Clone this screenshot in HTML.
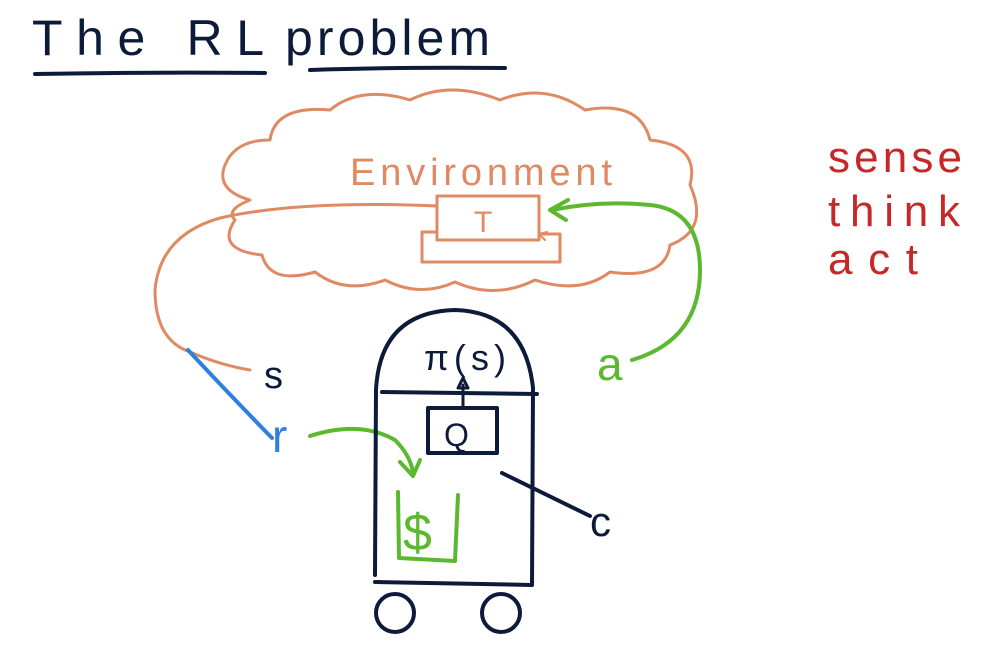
<!DOCTYPE html>
<html><head><style>
html,body{margin:0;padding:0;background:#fff;}
svg{display:block}
text{font-family:"Liberation Sans",sans-serif;}
</style></head><body>
<svg width="1004" height="652" viewBox="0 0 1004 652" xmlns="http://www.w3.org/2000/svg">
<g fill="none" stroke-linecap="round" stroke-linejoin="round">
<path d="M35 74 Q150 72 265 73" stroke="#0d1b3a" stroke-width="4"/>
<path d="M310 70 Q400 67 505 68" stroke="#0d1b3a" stroke-width="4"/>
<path d="M250 200 Q215 190 225 165 Q235 140 270 140 Q275 105 330 110 Q360 85 410 100 Q450 80 500 100 Q545 82 585 110 Q640 100 650 140 Q700 145 690 185 Q710 230 670 245 Q665 280 610 272 Q580 295 535 280 Q495 300 455 282 Q420 298 385 280 Q345 295 315 272 Q270 285 262 255 Q215 250 235 220 Q225 210 250 200" stroke="#e08a63" stroke-width="3"/>
<rect x="437" y="196" width="102" height="44" stroke="#e08a63" stroke-width="3"/>
<path d="M437 232 L422 232 L422 262 L560 262 L560 234 L539 234" stroke="#e08a63" stroke-width="3"/>
<path d="M545 240 L539 234 L547 232" stroke="#e08a63" stroke-width="2"/>
<path d="M437 206 Q300 200 220 218 Q160 235 155 290 Q155 340 190 352 Q220 365 250 370" stroke="#e08a63" stroke-width="3"/>
<path d="M188 350 Q230 395 272 438" stroke="#2f7fe0" stroke-width="4"/>
<path d="M632 360 Q700 340 700 270 Q700 210 650 205 Q600 200 552 210" stroke="#5cb82e" stroke-width="4"/>
<path d="M568 200 L550 210 L566 220" stroke="#5cb82e" stroke-width="4"/>
<path d="M310 436 Q360 420 395 440 Q410 455 413 472" stroke="#5cb82e" stroke-width="4"/>
<path d="M400 462 L413 476 L420 460" stroke="#5cb82e" stroke-width="4"/>
<path d="M375 575 L376 390 Q380 312 455 310 Q525 312 533 388 L532 585 L375 582" stroke="#0d1b3a" stroke-width="4"/>
<path d="M382 392 L537 394" stroke="#0d1b3a" stroke-width="4"/>
<rect x="428" y="408" width="69" height="45" stroke="#0d1b3a" stroke-width="4"/>
<path d="M463 408 L463 385 M458 388 L463 378 L468 388 Z" stroke="#0d1b3a" stroke-width="3"/>
<path d="M502 473 L590 516" stroke="#0d1b3a" stroke-width="4"/>
<circle cx="395" cy="613" r="19" stroke="#0d1b3a" stroke-width="4"/>
<circle cx="501" cy="613" r="19" stroke="#0d1b3a" stroke-width="4"/>
<path d="M398 492 L399 558 L455 561 L458 495" stroke="#5cb82e" stroke-width="4"/>
</g>
<g font-family="Liberation Sans, sans-serif">
<text x="32" y="55" font-size="50" fill="#0d1b3a" textLength="232" lengthAdjust="spacing">The RL</text>
<text x="285" y="55" font-size="50" fill="#0d1b3a" textLength="205" lengthAdjust="spacing">problem</text>
<text x="350" y="185" font-size="38" fill="#e08a63" textLength="262" lengthAdjust="spacing">Environment</text>
<text x="474" y="232" font-size="30" fill="#e08a63">T</text>
<text x="264" y="388" font-size="38" fill="#0d1b3a">s</text>
<text x="272" y="452" font-size="46" fill="#2f7fe0">r</text>
<text x="597" y="380" font-size="46" fill="#5cb82e">a</text>
<text x="424" y="370" font-size="36" fill="#0d1b3a" textLength="82" lengthAdjust="spacing">π(s)</text>
<text x="444" y="446" font-size="32" fill="#0d1b3a">Q</text>
<text x="403" y="550" font-size="52" fill="#5cb82e">$</text>
<text x="590" y="536" font-size="42" fill="#0d1b3a">c</text>
<text x="828" y="172" font-size="44" fill="#c62828" textLength="134" lengthAdjust="spacing">sense</text>
<text x="828" y="226" font-size="44" fill="#c62828" textLength="132" lengthAdjust="spacing">think</text>
<text x="828" y="274" font-size="44" fill="#c62828" textLength="90" lengthAdjust="spacing">act</text>
</g>
</svg>
</body></html>
